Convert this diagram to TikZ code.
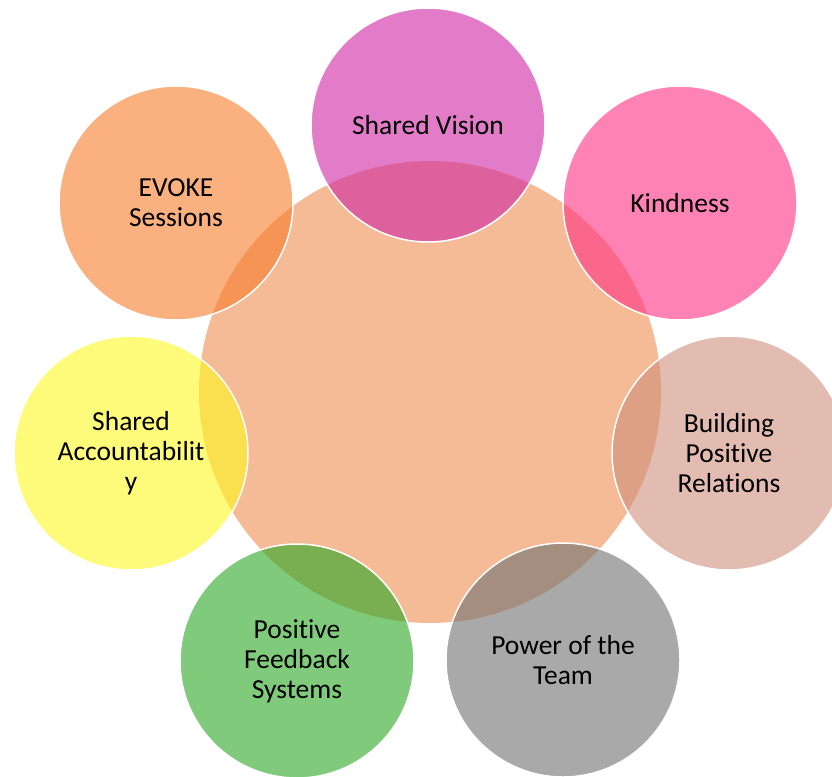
\documentclass[tikz,border=0pt]{standalone}
\usepackage{fontspec}
\setmainfont{Carlito}[RawFeature={-liga;-calt;-clig;-dlig}]
\definecolor{centralc}{RGB}{244,187,150}
\definecolor{visionc}{RGB}{207,37,163}
\definecolor{kindc}{RGB}{255,47,130}
\definecolor{buildc}{RGB}{207,143,123}
\definecolor{powerc}{RGB}{112,112,112}
\definecolor{feedc}{RGB}{42,168,35}
\definecolor{accc}{RGB}{255,248,33}
\definecolor{evokec}{RGB}{248,123,42}
\begin{document}
\begin{tikzpicture}[x=1pt,y=1pt,
  hub/.style={circle,fill=centralc,minimum size=462pt,inner sep=0pt},
  petal/.style={circle,minimum size=234pt,inner sep=0pt,draw=white,line width=1.5pt,
    fill opacity=0.6,text opacity=1,align=center,text=black,
    font=\fontsize{27.5}{30}\selectfont}]
\useasboundingbox (0,0) rectangle (832,-776);
\node[hub] (hub) at (430,-392) {};
\node[petal,fill=visionc] (vision) at (428,-125) {Shared Vision};
\node[petal,fill=kindc] (kind) at (680,-203) {Kindness};
\node[petal,fill=buildc] (build) at (729,-453) {Building\\Positive\\Relations};
\node[petal,fill=powerc] (power) at (563,-660) {Power of the\\Team};
\node[petal,fill=feedc] (feed) at (297,-661) {Positive\\Feedback\\Systems};
\node[petal,fill=accc] (acc) at (131,-453) {Shared\\Accountabilit\\y};
\node[petal,fill=evokec] (evoke) at (176,-203) {EVOKE\\Sessions};
\end{tikzpicture}
\end{document}
